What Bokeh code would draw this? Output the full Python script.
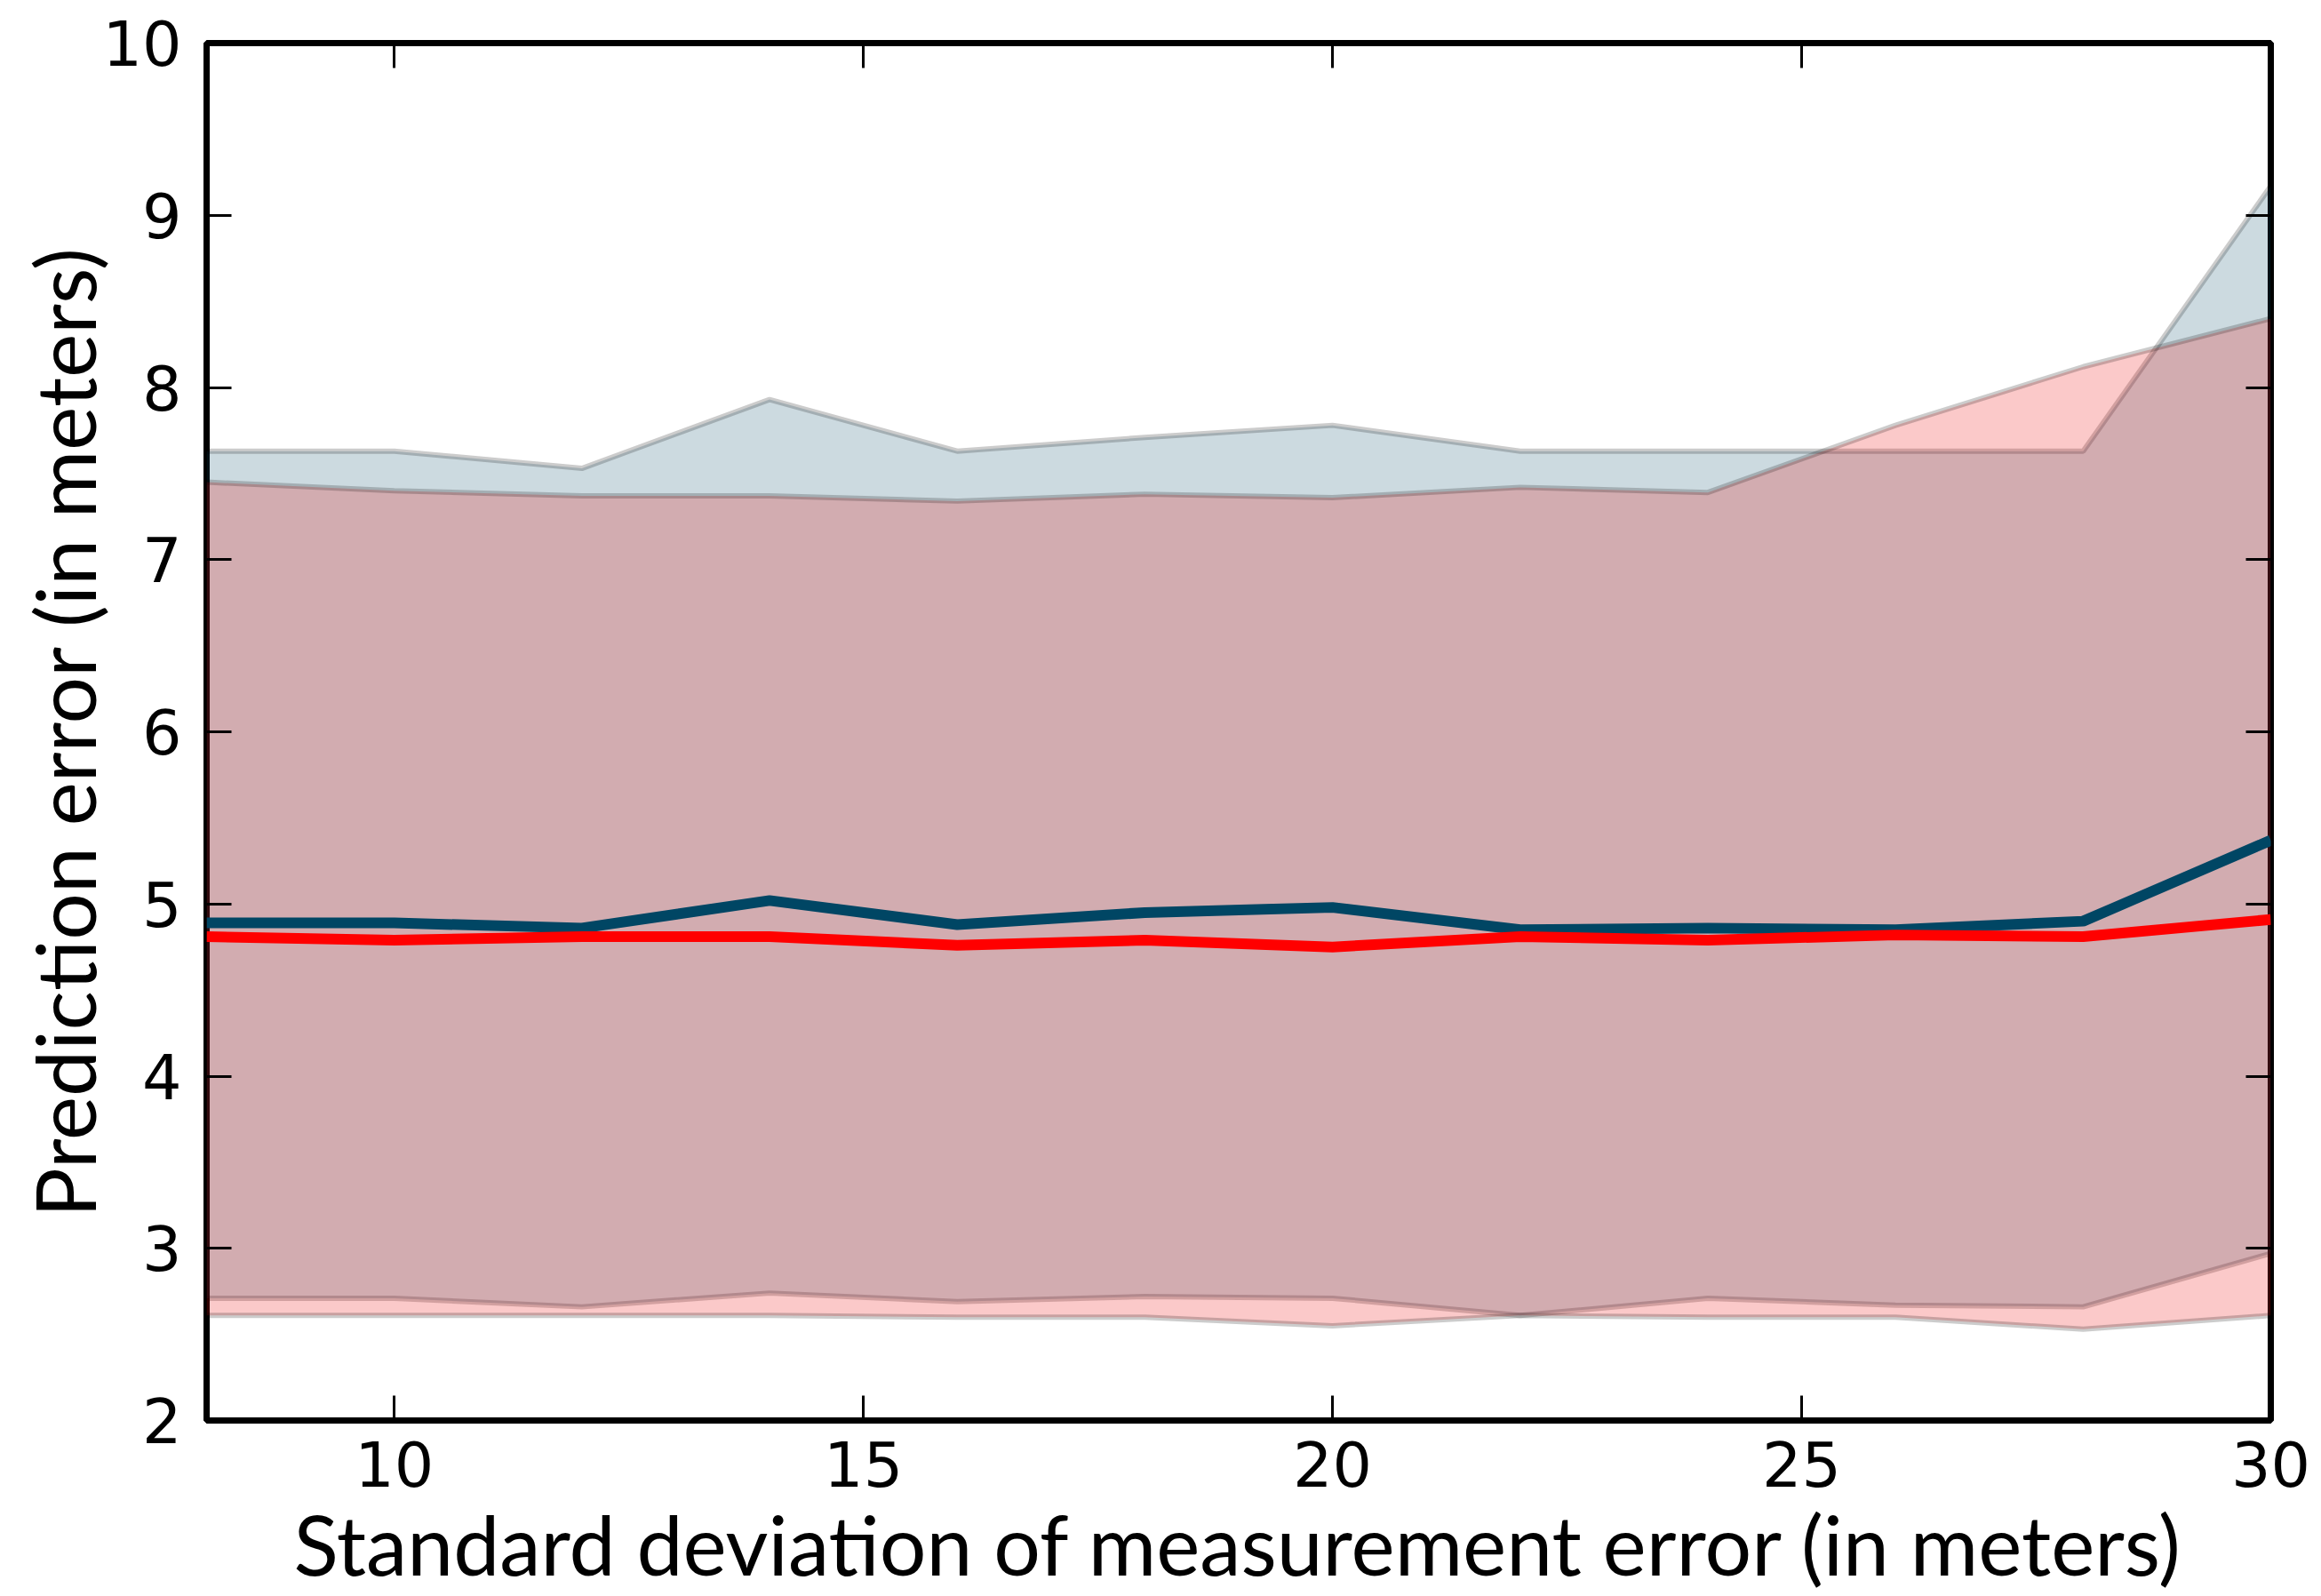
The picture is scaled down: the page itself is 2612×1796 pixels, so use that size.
from bokeh.plotting import figure
from bokeh.models import Range1d, LinearAxis, FixedTicker, CustomJSTickFormatter
from bokeh.embed import file_html
from bokeh.resources import INLINE

x = [8, 10, 12, 14, 16, 18, 20, 22, 24, 26, 28, 30]
blue_mean = [4.89, 4.89, 4.86, 5.02, 4.88, 4.95, 4.98, 4.85, 4.86, 4.85, 4.90, 5.37]
blue_upper = [7.63, 7.63, 7.53, 7.93, 7.63, 7.71, 7.78, 7.63, 7.63, 7.63, 7.63, 9.17]
blue_lower = [2.71, 2.71, 2.66, 2.74, 2.69, 2.72, 2.71, 2.61, 2.71, 2.67, 2.66, 2.97]
red_mean = [4.81, 4.79, 4.81, 4.81, 4.76, 4.79, 4.75, 4.81, 4.79, 4.82, 4.81, 4.91]
red_upper = [7.45, 7.40, 7.37, 7.37, 7.34, 7.38, 7.36, 7.42, 7.39, 7.78, 8.12, 8.40]
red_lower = [2.61, 2.61, 2.61, 2.61, 2.60, 2.60, 2.55, 2.61, 2.60, 2.60, 2.53, 2.61]

x_ticks = [10, 15, 20, 25, 30]
y_ticks = [2, 3, 4, 5, 6, 7, 8, 9, 10]
x_label = "Standard deviation of measurement error (in meters)"
y_label = "Prediction error (in meters)"

BLUE = "#004664"
RED = "#ff0000"
RED_FILL = "#ee0000"

p = figure(width=2612, height=1796, output_backend="svg", toolbar_location=None,
           x_range=Range1d(8, 30), y_range=Range1d(2, 10),
           min_border_left=232, min_border_right=57, min_border_top=48, min_border_bottom=198)
p.background_fill_color = "white"
p.border_fill_color = "white"
p.grid.visible = False
p.outline_line_color = "black"
p.outline_line_width = 7

# bands
p.varea(x=x, y1=blue_lower, y2=blue_upper, fill_color=BLUE, fill_alpha=0.2)
p.line(x, blue_upper, line_color="black", line_alpha=0.2, line_width=6)
p.line(x, blue_lower, line_color="black", line_alpha=0.2, line_width=6)
p.varea(x=x, y1=red_lower, y2=red_upper, fill_color=RED_FILL, fill_alpha=0.21)
p.line(x, red_upper, line_color="black", line_alpha=0.2, line_width=6)
p.line(x, red_lower, line_color="black", line_alpha=0.2, line_width=6)

# means
p.line(x, blue_mean, line_color=BLUE, line_width=12)
p.line(x, red_mean, line_color=RED, line_width=12)

bottom = p.xaxis[0]
left = p.yaxis[0]

# extra axes for ticks on top/right
top = LinearAxis()
right = LinearAxis()
p.add_layout(top, "above")
p.add_layout(right, "right")

empty = CustomJSTickFormatter(code="return ''")
for ax in [bottom, top]:
    ax.ticker = FixedTicker(ticks=x_ticks)
for ax in [left, right]:
    ax.ticker = FixedTicker(ticks=y_ticks)
top.formatter = empty
right.formatter = empty

for ax in [bottom, left, top, right]:
    ax.axis_line_color = None
    ax.major_tick_in = 28
    ax.major_tick_out = 0
    ax.major_tick_line_width = 3
    ax.major_tick_line_color = "black"
    ax.minor_tick_line_color = None
    ax.major_label_text_font = "DejaVu Sans"
    ax.major_label_text_font_size = "70px"
    ax.major_label_text_color = "black"

top.major_label_text_font_size = "0px"
right.major_label_text_font_size = "0px"
top.major_label_standoff = 0
right.major_label_standoff = 0

bottom.major_label_standoff = 23
left.major_label_standoff = 28

bottom.axis_label = x_label
left.axis_label = y_label
for ax in [bottom, left]:
    ax.axis_label_text_font = "Lato"
    ax.axis_label_text_font_size = "93px"
    ax.axis_label_text_font_style = "normal"
    ax.axis_label_text_color = "black"
bottom.axis_label_standoff = 5
left.axis_label_standoff = -16

open("out.html", "w").write(file_html(p, INLINE))
